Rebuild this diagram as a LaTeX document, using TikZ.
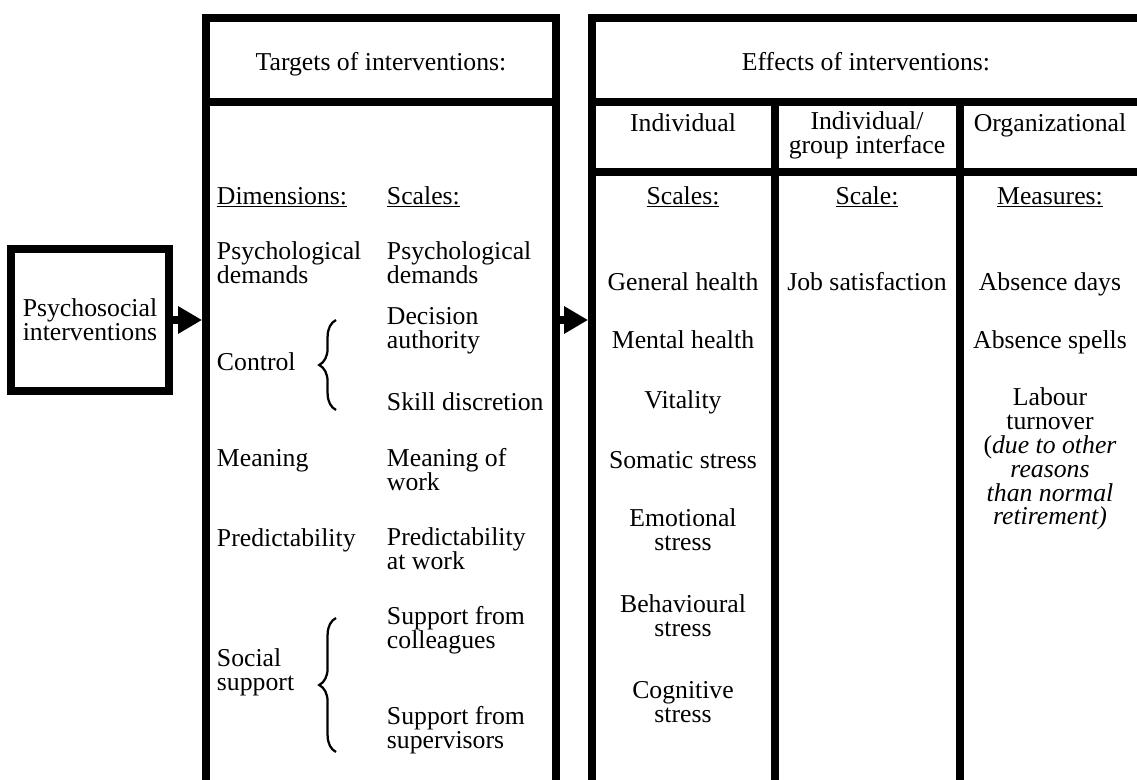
\documentclass[tikz,border=0pt]{standalone}
\usepackage{fontspec}
\setmainfont{Liberation Serif}
\usetikzlibrary{arrows.meta,decorations.pathreplacing}

\tikzset{
  frame/.style={draw,line width=5.5pt},
  rule/.style={line width=5.5pt},
  col/.style={anchor=west,align=left},
  mid/.style={align=center},
  ln/.style={text height=15.5pt,text depth=3.5pt},
  brc/.style={decorate,decoration={brace,amplitude=0.42cm},line width=1.6pt}
}

\begin{document}
\begin{tikzpicture}[x=0.025cm,y=-0.025cm,>={Triangle[length=6mm,width=6.5mm]},font=\fontsize{18.3}{17}\selectfont]
\useasboundingbox (0,0) rectangle (1137,780);
\clip (0,0) rectangle (1137,780);

\node[frame,minimum width=3.95cm,minimum height=3.55cm,align=center] (psy) at (90,320) {Psychosocial\\interventions};
\node[frame,minimum width=8.75cm,minimum height=20.05cm] (tgt) at (381,419) {};
\node[frame,minimum width=14.2cm,minimum height=20.05cm] (eff) at (876,419) {};

\coordinate (h1) at (0,102);
\coordinate (h2) at (0,172);
\coordinate (v1) at (775,0);
\coordinate (v2) at (960,0);
\draw[rule] (tgt.west |- h1) -- (tgt.east |- h1);
\draw[rule] (eff.west |- h1) -- (eff.east |- h1);
\draw[rule] (eff.west |- h2) -- (eff.east |- h2);
\draw[rule] (v1 |- h1) -- (v1 |- eff.south);
\draw[rule] (v2 |- h1) -- (v2 |- eff.south);

\draw[->,line width=5pt] (psy.east) -- (psy.east -| tgt.west);
\draw[->,line width=5pt] (tgt.east |- psy.east) -- (eff.west |- psy.east);

\node[ln] (ttl1) at (381,62) {Targets of interventions:};
\node[ln] (ttl2) at (866,62) {Effects of interventions:};

\node[col,ln] (dim) at (212,196) {\underline{Dimensions:}};
\node[col,ln] (sca) at (382,196) {\underline{Scales:}};
\node[col] (dpsy) at (212,263) {Psychological\\demands};
\node[col] (spsy) at (382,263) {Psychological\\demands};
\node[col] (sdec) at (382,331) {Decision\\authority};
\node[col,ln] (dctl) at (212,362) {Control};
\node[col,ln] (sskl) at (382,402) {Skill discretion};
\node[col,ln] (dmng) at (212,458) {Meaning};
\node[col] (smng) at (382,470) {Meaning of\\work};
\node[col,ln] (dprd) at (212,538) {Predictability};
\node[col] (sprd) at (382,549) {Predictability\\at work};
\node[col] (scol) at (382,630) {Support from\\colleagues};
\node[col] (dsoc) at (212,672) {Social\\support};
\node[col] (ssup) at (382,730) {Support from\\supervisors};

\draw[brc] (336,410) -- (336,320);
\draw[brc] (336,752) -- (336,618);

\node[mid,ln] (hind) at (683,123) {Individual};
\node[mid] (hgrp) at (867,135) {Individual/\\group interface};
\node[mid,ln] (horg) at (1050,123) {Organizational};

\node[mid,ln] (isca) at (683,196) {\underline{Scales:}};
\node[mid,ln] (gsca) at (867,196) {\underline{Scale:}};
\node[mid,ln] (omea) at (1050,196) {\underline{Measures:}};

\node[mid,ln] (ghl) at (683,282) {General health};
\node[mid,ln] (mhl) at (683,340) {Mental health};
\node[mid,ln] (vit) at (683,400) {Vitality};
\node[mid,ln] (som) at (683,460) {Somatic stress};
\node[mid] (emo) at (683,530) {Emotional\\stress};
\node[mid] (beh) at (683,616) {Behavioural\\stress};
\node[mid] (cog) at (683,702) {Cognitive\\stress};

\node[mid,ln] (job) at (867,282) {Job satisfaction};

\node[mid,ln] (abd) at (1050,282) {Absence days};
\node[mid,ln] (abs) at (1050,340) {Absence spells};
\node[mid] (lab) at (1050,459) {Labour\\turnover\\(\textit{due to other}\\\textit{reasons}\\\textit{than normal}\\\textit{retirement)}};
\end{tikzpicture}
\end{document}
